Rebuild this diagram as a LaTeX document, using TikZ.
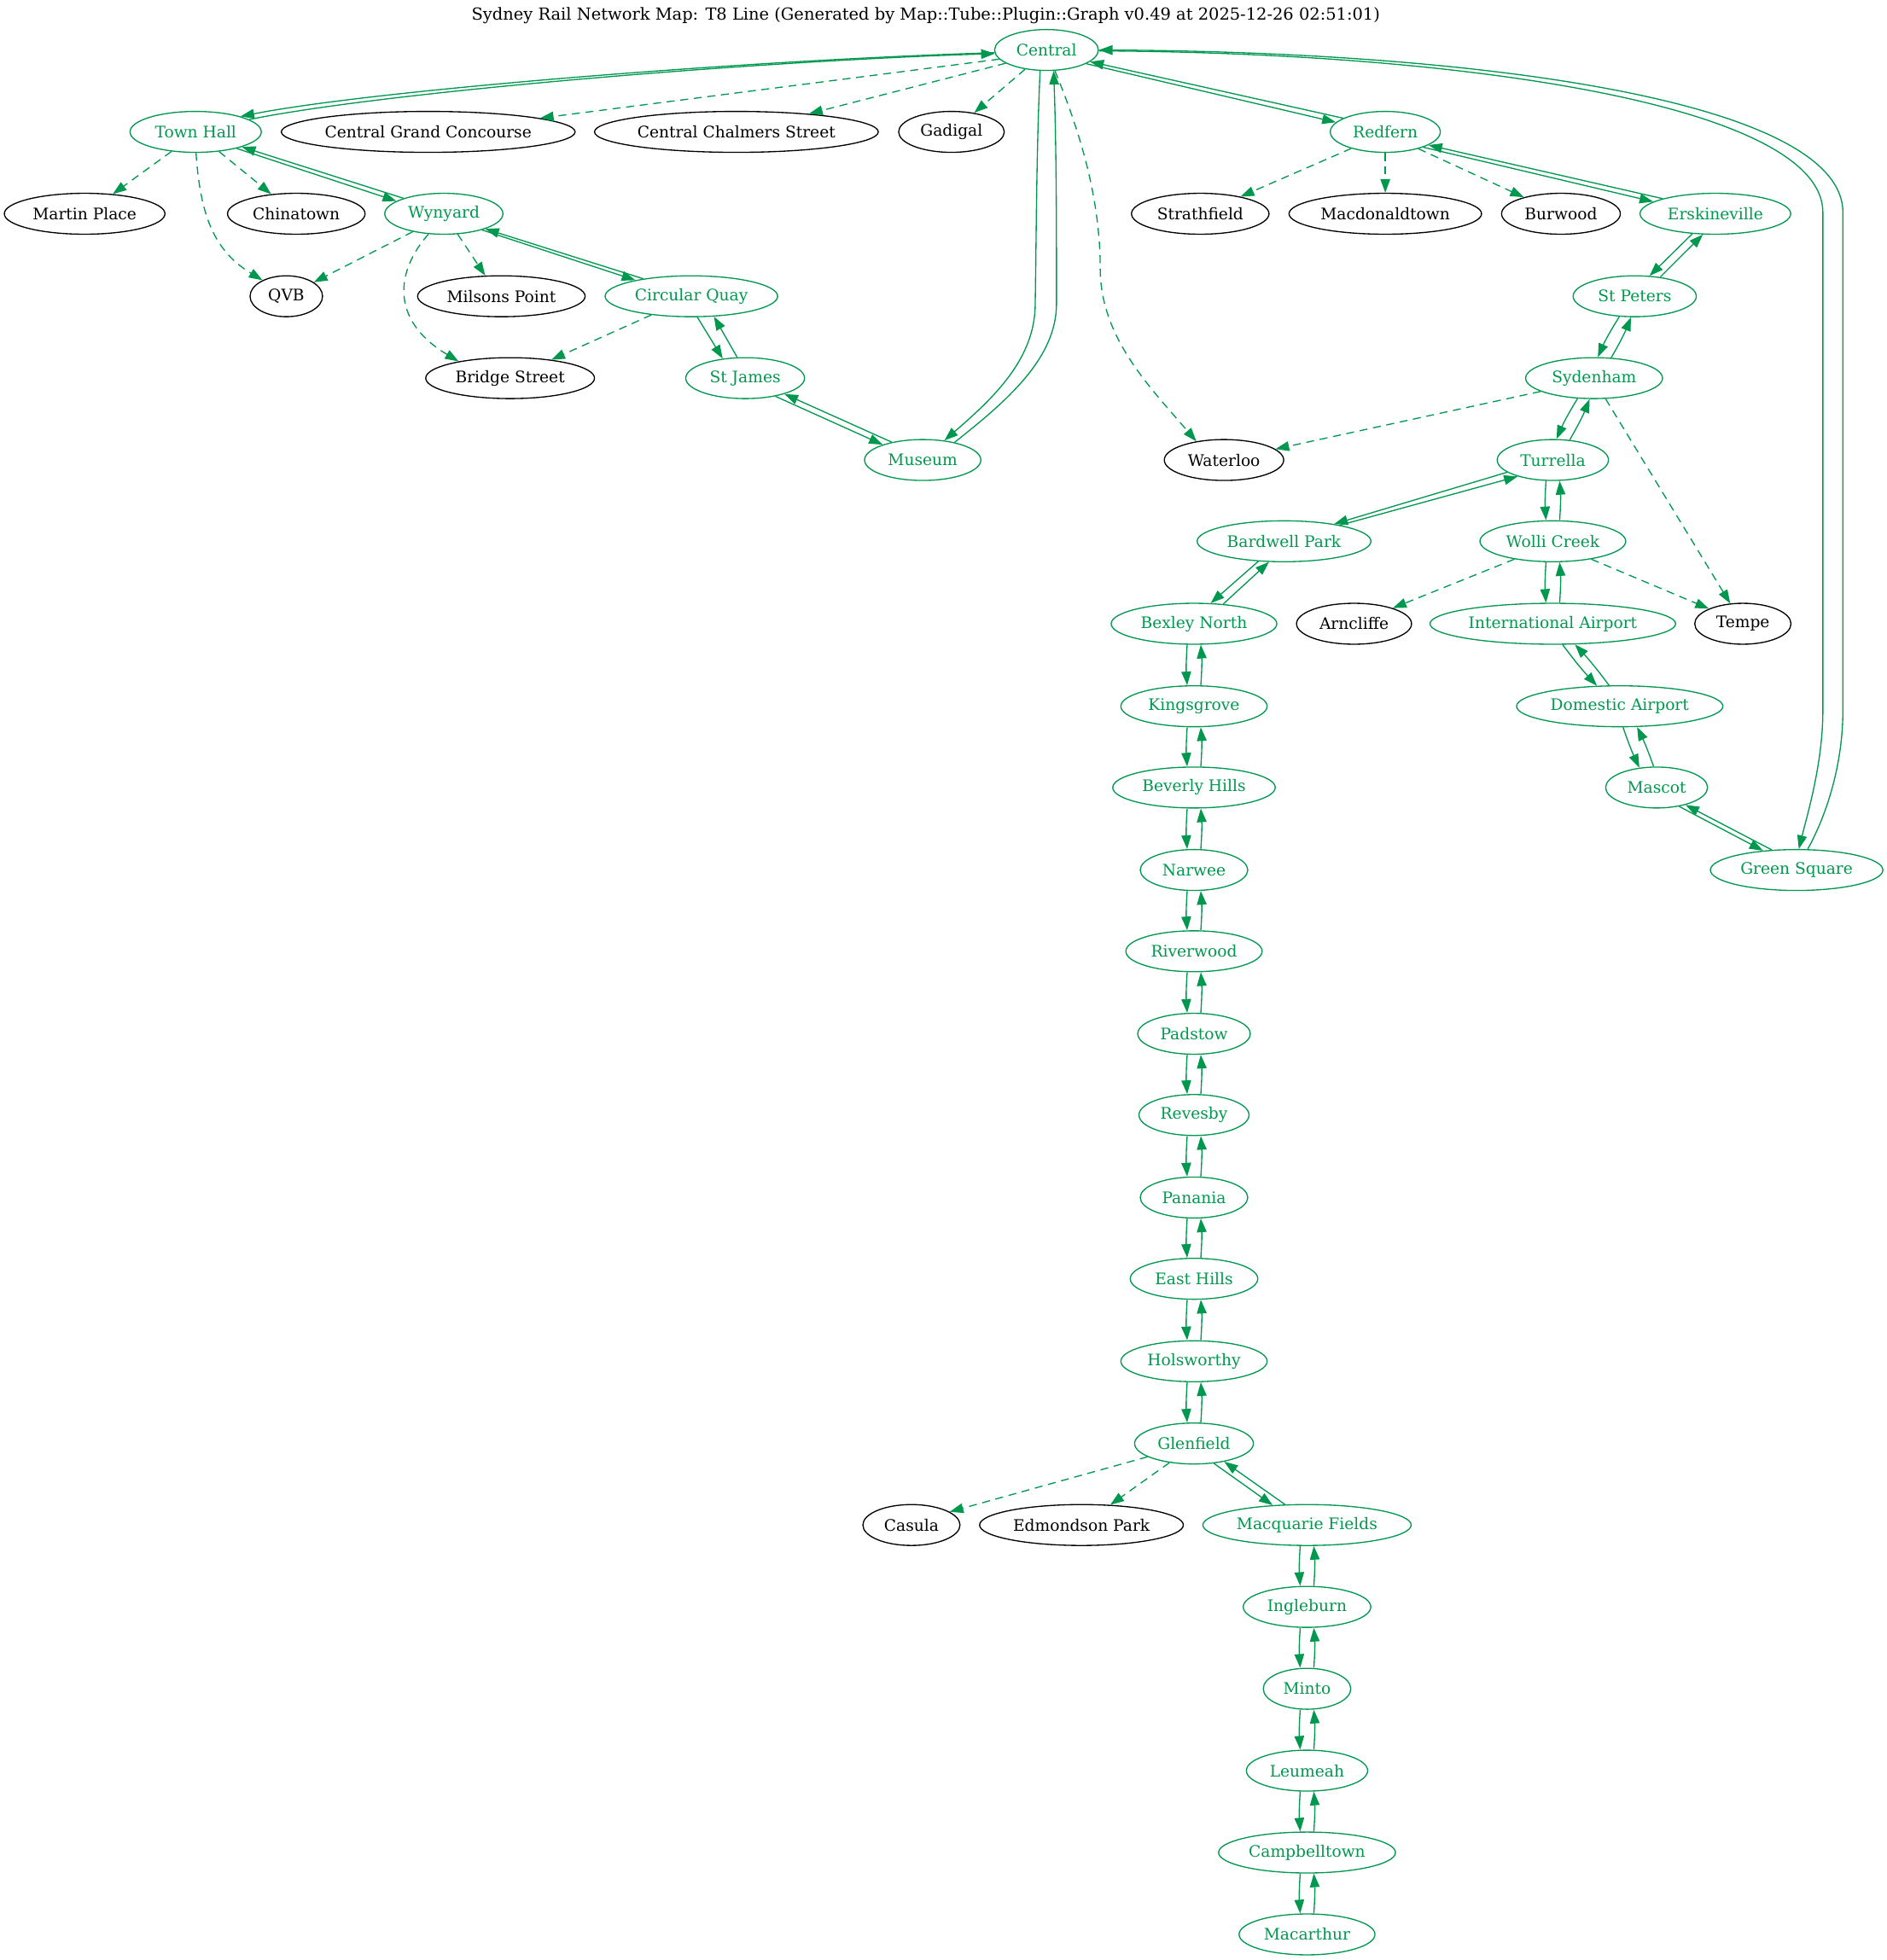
\documentclass[tikz,border=0pt]{standalone}
\usepackage{fontspec}
\setmainfont{DejaVu Serif}
\usetikzlibrary{arrows.meta,shapes.geometric}
\definecolor{railgreen}{RGB}{0,152,78}
\tikzset{
  stn/.style={ellipse,draw=railgreen,text=railgreen,line width=1pt,inner sep=0pt,minimum height=36pt,minimum width=#1*1.1pt,font=\fontsize{14pt}{17pt}\selectfont},
  xstn/.style={ellipse,draw=black,text=black,line width=1pt,inner sep=0pt,minimum height=36pt,minimum width=#1*1.1pt,font=\fontsize{14pt}{17pt}\selectfont},
  rail/.style={draw=railgreen,line width=1pt,-{Triangle[length=12pt,width=8.5pt,fill=railgreen]}},
  link/.style={rail,dash pattern=on 7pt off 5pt}
}
\begin{document}
\begin{tikzpicture}[x=1.1pt,y=-1.1pt]
\useasboundingbox (0,0) rectangle (1509,1568);

\node (title) at (740.5,12.5) [font=\fontsize{14.6pt}{17pt}\selectfont] {Sydney Rail Network Map: T8 Line (Generated by Map::Tube::Plugin::Graph v0.49 at 2025-12-26 02:51:01)};

\node (central) at (837,40) [stn=83] {Central};
\node (townhall) at (156.5,105.5) [stn=105] {Town Hall};
\node (grandconcourse) at (342.5,105.5) [xstn=235] {Central Grand Concourse};
\node (chalmers) at (589,105.5) [xstn=227] {Central Chalmers Street};
\node (gadigal) at (761,105.5) [xstn=84.5] {Gadigal};
\node (redfern) at (1108,105.5) [stn=88] {Redfern};
\node (martinplace) at (67.7,171) [xstn=128.5] {Martin Place};
\node (chinatown) at (237,171) [xstn=110] {Chinatown};
\node (wynyard) at (355,171) [stn=94.5] {Wynyard};
\node (strathfield) at (960,171) [xstn=110] {Strathfield};
\node (macdonaldtown) at (1108,171) [xstn=154] {Macdonaldtown};
\node (burwood) at (1248.5,171) [xstn=95] {Burwood};
\node (erskineville) at (1372,171) [stn=120.5] {Erskineville};
\node (qvb) at (229,237) [xstn=58] {QVB};
\node (milsons) at (401,237) [xstn=134] {Milsons Point};
\node (circularquay) at (553,237) [stn=138] {Circular Quay};
\node (stpeters) at (1307.5,237) [stn=98.5] {St Peters};
\node (bridgestreet) at (408,302.5) [xstn=135] {Bridge Street};
\node (stjames) at (596,302.5) [stn=95] {St James};
\node (sydenham) at (1275,302.5) [stn=109.5] {Sydenham};
\node (museum) at (738,368) [stn=93] {Museum};
\node (waterloo) at (979,368) [xstn=95.5] {Waterloo};
\node (turrella) at (1242,368) [stn=89] {Turrella};
\node (bardwell) at (1027,433) [stn=139] {Bardwell Park};
\node (wolli) at (1242,433) [stn=116.6] {Wolli Creek};
\node (bexley) at (955,499) [stn=132.5] {Bexley North};
\node (arncliffe) at (1083,499) [xstn=92] {Arncliffe};
\node (intl) at (1242,499) [stn=196.5] {International Airport};
\node (tempe) at (1394,499) [xstn=77] {Tempe};
\node (kingsgrove) at (955,565) [stn=117] {Kingsgrove};
\node (domestic) at (1295.5,565) [stn=165] {Domestic Airport};
\node (beverly) at (955,630) [stn=130] {Beverly Hills};
\node (mascot) at (1325,630) [stn=81.5] {Mascot};
\node (narwee) at (955,696) [stn=86] {Narwee};
\node (greensquare) at (1437,696) [stn=138] {Green Square};
\node (riverwood) at (955,761) [stn=109] {Riverwood};
\node (padstow) at (955,827) [stn=90] {Padstow};
\node (revesby) at (955,892) [stn=88] {Revesby};
\node (panania) at (955,958) [stn=86] {Panania};
\node (easthills) at (955,1023) [stn=102] {East Hills};
\node (holsworthy) at (955,1089) [stn=117] {Holsworthy};
\node (glenfield) at (955,1154.8) [stn=95] {Glenfield};
\node (casula) at (729,1220) [xstn=77.7] {Casula};
\node (edmondson) at (865,1220) [xstn=163] {Edmondson Park};
\node (macquarie) at (1045.4,1220) [stn=166.6] {Macquarie Fields};
\node (ingleburn) at (1045.4,1285.5) [stn=102] {Ingleburn};
\node (minto) at (1045.4,1351) [stn=70] {Minto};
\node (leumeah) at (1045.4,1416.5) [stn=97] {Leumeah};
\node (campbelltown) at (1045.4,1482) [stn=141.5] {Campbelltown};
\node (macarthur) at (1045.4,1547.5) [stn=108.7] {Macarthur};

\draw [rail] (central.183) .. controls (600,48) and (300,72) .. (townhall.19);
\draw [rail] (townhall.13) .. controls (305,74) and (600,49) .. (central.184);
\draw [rail] (central.-107) .. controls (829,120) and (829,180) .. (828,243) .. controls (828,287) and (795,318) .. (museum.42);
\draw [rail] (museum.29) .. controls (805,321) and (845,287) .. (845,243) .. controls (845,180) and (845,120) .. (central.-71);
\draw [rail] (central.-19) -- (redfern.169);
\draw [rail] (redfern.162) -- (central.-15);
\draw [rail] (central.-1) .. controls (1170,42) and (1458,84) .. (1458,170) -- (1458,568) .. controls (1458,610) and (1446,650) .. (greensquare.84);
\draw [rail] (greensquare.62) .. controls (1462,650) and (1474,610) .. (1474,568) -- (1474,170) .. controls (1474,80) and (1180,41.5) .. (central.0);
\draw [rail] (townhall.-22) -- (wynyard.165);
\draw [rail] (wynyard.159) -- (townhall.-18);
\draw [rail] (wynyard.-23) -- (circularquay.164);
\draw [rail] (circularquay.160) -- (wynyard.-20);
\draw [rail] (circularquay.-74) -- (stjames.139);
\draw [rail] (stjames.111) -- (circularquay.-42);
\draw [rail] (stjames.-31) -- (museum.159);
\draw [rail] (museum.150) -- (stjames.-22);
\draw [rail] (redfern.-22) -- (erskineville.169);
\draw [rail] (erskineville.164) -- (redfern.-17);
\draw [rail] (erskineville.221) -- (stpeters.54);
\draw [rail] (stpeters.37) -- (erskineville.239);
\draw [rail] (stpeters.233) to[bend right=4] (sydenham.80);
\draw [rail] (sydenham.50) to[bend right=4] (stpeters.260);
\draw [rail] (sydenham.231) to[bend right=4] (turrella.80);
\draw [rail] (turrella.50) to[bend right=4] (sydenham.258);
\draw [rail] (turrella.195) -- (bardwell.19);
\draw [rail] (bardwell.16) -- (turrella.205);
\draw [rail] (bardwell.218) -- (bexley.51);
\draw [rail] (bexley.34) -- (bardwell.234);
\draw [rail] (intl.-65) to[bend right=3] (domestic.138);
\draw [rail] (domestic.117) to[bend right=3] (intl.-43);
\draw [rail] (domestic.-81) to[bend right=3] (mascot.131);
\draw [rail] (mascot.98) to[bend right=3] (domestic.-50);
\draw [rail] (mascot.-40) -- (greensquare.150);
\draw [rail] (greensquare.141) -- (mascot.-31);
\draw [rail] (glenfield.-45) -- (macquarie.150);
\draw [rail] (macquarie.137) -- (glenfield.-31);

\draw [rail] ([xshift=-6pt]turrella.south) to[bend right=4] ([xshift=-6pt]wolli.north);
\draw [rail] ([xshift=6pt]wolli.north) to[bend right=4] ([xshift=6pt]turrella.south);
\draw [rail] ([xshift=-6pt]wolli.south) to[bend right=4] ([xshift=-6pt]intl.north);
\draw [rail] ([xshift=6pt]intl.north) to[bend right=4] ([xshift=6pt]wolli.south);
\draw [rail] ([xshift=-6pt]bexley.south) to[bend right=4] ([xshift=-6pt]kingsgrove.north);
\draw [rail] ([xshift=6pt]kingsgrove.north) to[bend right=4] ([xshift=6pt]bexley.south);
\draw [rail] ([xshift=-6pt]kingsgrove.south) to[bend right=4] ([xshift=-6pt]beverly.north);
\draw [rail] ([xshift=6pt]beverly.north) to[bend right=4] ([xshift=6pt]kingsgrove.south);
\draw [rail] ([xshift=-6pt]beverly.south) to[bend right=4] ([xshift=-6pt]narwee.north);
\draw [rail] ([xshift=6pt]narwee.north) to[bend right=4] ([xshift=6pt]beverly.south);
\draw [rail] ([xshift=-6pt]narwee.south) to[bend right=4] ([xshift=-6pt]riverwood.north);
\draw [rail] ([xshift=6pt]riverwood.north) to[bend right=4] ([xshift=6pt]narwee.south);
\draw [rail] ([xshift=-6pt]riverwood.south) to[bend right=4] ([xshift=-6pt]padstow.north);
\draw [rail] ([xshift=6pt]padstow.north) to[bend right=4] ([xshift=6pt]riverwood.south);
\draw [rail] ([xshift=-6pt]padstow.south) to[bend right=4] ([xshift=-6pt]revesby.north);
\draw [rail] ([xshift=6pt]revesby.north) to[bend right=4] ([xshift=6pt]padstow.south);
\draw [rail] ([xshift=-6pt]revesby.south) to[bend right=4] ([xshift=-6pt]panania.north);
\draw [rail] ([xshift=6pt]panania.north) to[bend right=4] ([xshift=6pt]revesby.south);
\draw [rail] ([xshift=-6pt]panania.south) to[bend right=4] ([xshift=-6pt]easthills.north);
\draw [rail] ([xshift=6pt]easthills.north) to[bend right=4] ([xshift=6pt]panania.south);
\draw [rail] ([xshift=-6pt]easthills.south) to[bend right=4] ([xshift=-6pt]holsworthy.north);
\draw [rail] ([xshift=6pt]holsworthy.north) to[bend right=4] ([xshift=6pt]easthills.south);
\draw [rail] ([xshift=-6pt]holsworthy.south) to[bend right=4] ([xshift=-6pt]glenfield.north);
\draw [rail] ([xshift=6pt]glenfield.north) to[bend right=4] ([xshift=6pt]holsworthy.south);
\draw [rail] ([xshift=-6pt]macquarie.south) to[bend right=4] ([xshift=-6pt]ingleburn.north);
\draw [rail] ([xshift=6pt]ingleburn.north) to[bend right=4] ([xshift=6pt]macquarie.south);
\draw [rail] ([xshift=-6pt]ingleburn.south) to[bend right=4] ([xshift=-6pt]minto.north);
\draw [rail] ([xshift=6pt]minto.north) to[bend right=4] ([xshift=6pt]ingleburn.south);
\draw [rail] ([xshift=-6pt]minto.south) to[bend right=4] ([xshift=-6pt]leumeah.north);
\draw [rail] ([xshift=6pt]leumeah.north) to[bend right=4] ([xshift=6pt]minto.south);
\draw [rail] ([xshift=-6pt]leumeah.south) to[bend right=4] ([xshift=-6pt]campbelltown.north);
\draw [rail] ([xshift=6pt]campbelltown.north) to[bend right=4] ([xshift=6pt]leumeah.south);
\draw [rail] ([xshift=-6pt]campbelltown.south) to[bend right=4] ([xshift=-6pt]macarthur.north);
\draw [rail] ([xshift=6pt]macarthur.north) to[bend right=4] ([xshift=6pt]campbelltown.south);

\draw [link] (central.191) -- (grandconcourse.7);
\draw [link] (central.198) -- (chalmers.14);
\draw [link] (central.222) -- (gadigal.40);
\draw [link] (central.-68) .. controls (870,120) and (880,170) .. (880,215) .. controls (880,270) and (920,310) .. (waterloo.146);
\draw [link] (townhall.219) -- (martinplace.35);
\draw [link] (townhall.-89) .. controls (160,170) and (170,200) .. (qvb.146);
\draw [link] (townhall.-40) -- (chinatown.142);
\draw [link] (wynyard.210) -- (qvb.27);
\draw [link] (wynyard.233) .. controls (318,215) and (310,255) .. (bridgestreet.162);
\draw [link] (wynyard.-56) -- (milsons.128);
\draw [link] (circularquay.205) -- (bridgestreet.24);
\draw [link] (redfern.206) -- (strathfield.23);
\draw [link] (redfern.south) -- (macdonaldtown.north);
\draw [link] (redfern.-27) -- (burwood.156);
\draw [link] (sydenham.194) -- (waterloo.12);
\draw [link] (sydenham.-61) -- (tempe.122);
\draw [link] (wolli.205) -- (arncliffe.22);
\draw [link] (wolli.-25) -- (tempe.156);
\draw [link] (glenfield.196) -- (casula.19);
\draw [link] (glenfield.218) -- (edmondson.35);
\end{tikzpicture}
\end{document}
